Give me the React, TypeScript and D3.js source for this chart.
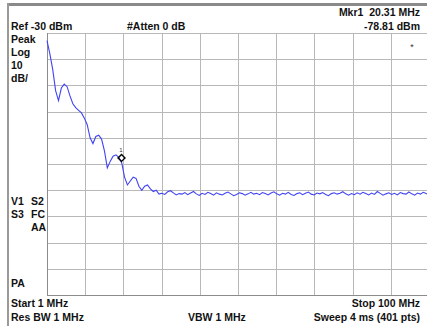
import React, { useEffect, useRef } from 'react';
import * as d3 from 'd3';

// sweep settings (MHz / dBm)
const startFreq = 1;
const stopFreq = 100;
const refLevel = -30;
const dbPerDiv = 10;

const marker = { freq: 20.31, level: -78.81 };

// trace levels in dBm, evenly spaced over the sweep (every 3rd of 401 pts)
const traceLevels = [
  -32.9, -38, -44, -52, -55.8, -51, -49.5, -50.5, -54, -57,
  -58.5, -59.5, -60.5, -62.5, -65, -70, -72.2, -69.5, -69, -70.5,
  -75, -81.5, -79, -77, -76.5, -77.5, -79.5, -85, -88, -86.5,
  -85, -85.5, -88.5, -90, -88.5, -88, -89.5, -90.5, -90, -91.5,
  -91.2, -91.6, -90.6, -90.2, -91.0, -91.8, -91.3, -91.5, -90.9, -91.7,
  -91.1, -90.5, -91.4, -92.0, -91.2, -91.6, -90.8, -91.3, -91.9, -91.0,
  -91.5, -91.8, -91.2, -90.7, -91.4, -92.1, -91.6, -91.0, -91.3, -91.9,
  -91.4, -90.8, -91.5, -91.2, -91.7, -90.9, -91.3, -91.8, -91.1, -90.6,
  -91.4, -91.9, -91.2, -91.5, -90.8, -91.6, -92.0, -91.3, -91.0, -91.7,
  -91.2, -90.7, -91.5, -91.8, -91.1, -91.4, -90.9, -91.6, -92.1, -91.3,
  -91.0, -91.5, -91.2, -90.6, -91.4, -91.9, -91.3, -91.7, -91.0, -91.5,
  -90.8, -91.3, -91.8, -91.1, -91.6, -90.5, -91.2, -91.9, -91.4, -91.0,
  -91.6, -91.2, -91.8, -90.9, -91.3, -91.5, -90.7, -91.4, -91.9, -91.1,
  -91.5, -90.8, -91.3, -91.6
];

// annotation text: [label, x, y, anchor]
const leftLabels: [string, number, number][] = [
  ['Ref -30 dBm', 11, 30],
  ['Peak', 11, 43],
  ['Log', 11, 56],
  ['10', 11, 69],
  ['dB/', 11, 82],
  ['V1', 11, 205],
  ['S2', 31, 205],
  ['S3', 11, 218],
  ['FC', 31, 218],
  ['AA', 31, 231],
  ['PA', 11, 287],
  ['Start 1 MHz', 11, 307],
  ['Res BW 1 MHz', 11, 321],
  ['#Atten 0 dB', 127, 30],
  ['VBW 1 MHz', 188, 321]
];
const rightLabels: [string, number, number][] = [
  ['Mkr1  20.31 MHz', 420, 16],
  ['-78.81 dBm', 420, 30],
  ['Stop 100 MHz', 420, 307],
  ['Sweep 4 ms (401 pts)', 420, 321]
];

const W = 427;
const H = 326;

const App = () => {
  const svgRef = useRef<SVGSVGElement>(null);

  useEffect(() => {
    const svg = d3.select(svgRef.current);
    svg.selectAll('*').remove();

    const left = 47, top = 33, right = 429, bottom = 295;
    const x = d3.scaleLinear().domain([startFreq, stopFreq]).range([left, right]);
    const y = d3.scaleLinear().domain([refLevel - 10 * dbPerDiv, refLevel]).range([bottom, top]);

    // frame
    svg.append('rect').attr('x', 8).attr('y', 3).attr('width', W - 8).attr('height', 3).attr('fill', '#8a8a8a');
    svg.append('rect').attr('x', 7).attr('y', 3).attr('width', 2).attr('height', H - 3).attr('fill', '#9a9a9a');

    // graticule
    const divs = d3.range(0, 11);
    const g = svg.append('g').attr('stroke', '#b8b8b8').attr('stroke-width', 1);
    divs.forEach(k => {
      const xv = Math.round(x(startFreq + k * (stopFreq - startFreq) / 10)) + 0.5;
      const yv = Math.round(y(refLevel - k * dbPerDiv)) + 0.5;
      g.append('line').attr('x1', xv).attr('x2', xv).attr('y1', top).attr('y2', bottom);
      g.append('line').attr('x1', left).attr('x2', right).attr('y1', yv).attr('y2', yv);
    });
    svg.append('line').attr('x1', left + 0.5).attr('x2', left + 0.5).attr('y1', top).attr('y2', bottom + 1)
      .attr('stroke', '#8c8c8c');
    svg.append('line').attr('x1', left).attr('x2', right).attr('y1', bottom + 0.5).attr('y2', bottom + 0.5)
      .attr('stroke', '#8c8c8c');

    // trace
    const step = (stopFreq - startFreq) / (traceLevels.length - 1);
    const line = d3.line<number>()
      .x((d, i) => x(startFreq + i * step))
      .y(d => y(d));
    svg.append('path')
      .datum(traceLevels)
      .attr('d', line)
      .attr('fill', 'none')
      .attr('stroke', '#3f43f5')
      .attr('stroke-width', 1.1);

    // marker
    const mx = x(marker.freq), my = y(marker.level) - 3;
    svg.append('path')
      .attr('d', `M${mx},${my - 3.5}L${mx + 3.5},${my}L${mx},${my + 3.5}L${mx - 3.5},${my}Z`)
      .attr('fill', 'none').attr('stroke', '#000').attr('stroke-width', 1.4);
    svg.append('text').attr('x', mx - 0.5).attr('y', my - 6).attr('text-anchor', 'middle')
      .attr('font-size', 6).attr('font-family', 'Liberation Sans, Arial, sans-serif').attr('fill', '#333').text('1');

    svg.append('text').attr('x', 412).attr('y', 50).attr('text-anchor', 'middle')
      .attr('font-size', 9).attr('font-family', 'Liberation Sans, Arial, sans-serif').attr('fill', '#333').text('*');

    const txt = svg.append('g')
      .attr('font-family', 'Liberation Sans, Arial, sans-serif')
      .attr('font-weight', 'bold')
      .attr('font-size', 10.5)
      .attr('fill', '#111');
    leftLabels.forEach(([t, tx, ty]) => {
      txt.append('text').attr('x', tx).attr('y', ty).text(t);
    });
    rightLabels.forEach(([t, tx, ty]) => {
      txt.append('text').attr('x', tx).attr('y', ty).attr('text-anchor', 'end')
        .attr('xml:space', 'preserve').style('white-space', 'pre').text(t);
    });
  }, []);

  return (
    <svg ref={svgRef} width={W} height={H}
      style={{ position: 'absolute', left: 0, top: 0, background: '#fff' }} />
  );
};

export default App;
